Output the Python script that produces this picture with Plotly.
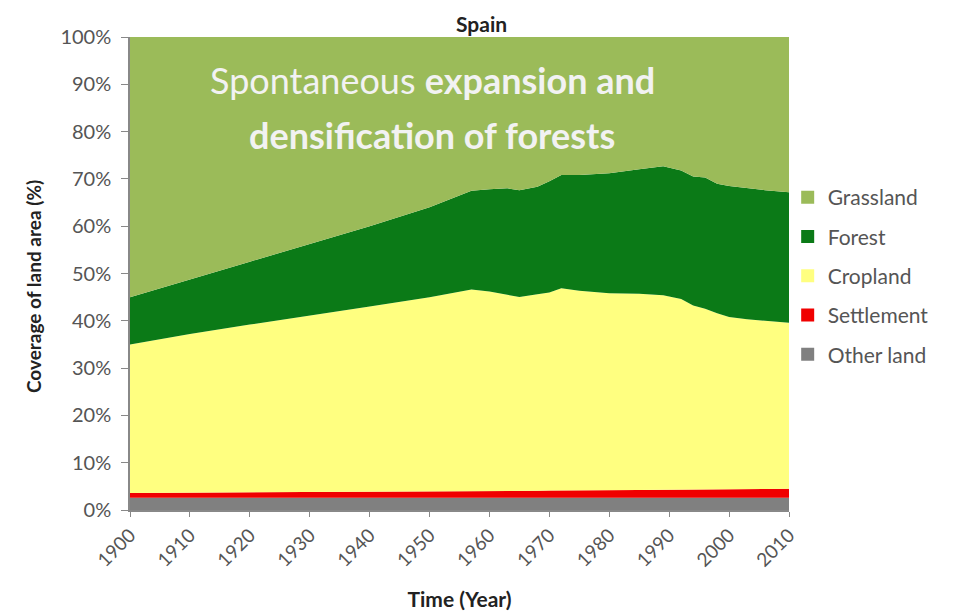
import plotly.graph_objects as go

years = [1900, 1910, 1920, 1930, 1940, 1950, 1957, 1960, 1963, 1965, 1968, 1970, 1972,
         1975, 1980, 1985, 1989, 1992, 1994, 1996, 1998, 2000, 2003, 2006, 2010]
other_land = [2.6] * len(years)
settlement = [1.0, 1.05, 1.1, 1.15, 1.2, 1.3, 1.35, 1.4, 1.4, 1.45, 1.45, 1.5, 1.5,
              1.55, 1.6, 1.65, 1.7, 1.7, 1.75, 1.75, 1.8, 1.8, 1.85, 1.85, 1.9]
cropland = [31.4, 33.6, 35.5, 37.3, 39.2, 41.1, 42.7, 42.2, 41.5, 41.0, 41.6, 41.9, 42.8,
            42.2, 41.6, 41.5, 41.1, 40.3, 38.9, 38.2, 37.2, 36.4, 35.9, 35.6, 35.1]
forest = [10.0, 11.6, 13.3, 15.2, 17.0, 19.0, 20.9, 21.6, 22.5, 22.6, 22.7, 23.5, 23.9,
          24.5, 25.4, 26.3, 27.3, 27.2, 27.3, 27.8, 27.4, 27.7, 27.7, 27.6, 27.6]
grassland = [55.0, 51.2, 47.5, 43.8, 40.0, 36.0, 32.5, 32.2, 32.0, 32.4, 31.7, 30.5, 29.2,
             29.2, 28.8, 28.0, 27.3, 28.2, 29.5, 29.7, 31.0, 31.5, 32.0, 32.4, 32.8]

series = [
    ("Other land", other_land, "#808080"),
    ("Settlement", settlement, "#F00000"),
    ("Cropland", cropland, "#FFFF80"),
    ("Forest", forest, "#0B7A17"),
    ("Grassland", grassland, "#9BBB59"),
]

fig = go.Figure()
for name, vals, col in series:
    fig.add_trace(go.Scatter(
        x=years, y=vals, name=name, mode="lines", stackgroup="one",
        groupnorm="percent" if name == "Other land" else None,
        line=dict(width=0, color=col), fillcolor=col, showlegend=False,
    ))
# legend entries with square symbols (Grassland on top)
for rank, (name, vals, col) in enumerate(reversed(series)):
    fig.add_trace(go.Scatter(
        x=[None], y=[None], name=name, mode="markers",
        marker=dict(symbol="square", size=13, color=col),
        legendgroup=name, legendrank=rank + 1, showlegend=True,
    ))

FONT = "Lato"
PX_L, PX_T, PW, PH = 130, 37, 659, 473  # plot area in page pixels


def px(xp):
    return (xp - PX_L) / PW


def py(yp):
    return (PX_T + PH - yp) / PH


fig.update_layout(
    width=966, height=616,
    margin=dict(l=122, r=185, t=29, b=114),
    paper_bgcolor="white", plot_bgcolor="white",
    font=dict(family=FONT, color="#555555", size=20),
    showlegend=True,
    legend=dict(x=0.998, xanchor="left", y=py(177), yanchor="top",
                traceorder="grouped", tracegroupgap=9,
                font=dict(size=21, color="#555555", family=FONT),
                itemwidth=30, bgcolor="rgba(0,0,0,0)"),
    xaxis=dict(range=[1900, 2010], tickmode="array",
               tickvals=list(range(1900, 2011, 10)),
               tickangle=-45, ticks="outside", ticklen=5, tickcolor="#888888",
               showline=True, linecolor="#888888", linewidth=1.5, showgrid=False,
               zeroline=False, tickfont=dict(size=19, color="#555555"),
               title=dict(text="<b>Time (Year)</b>", standoff=23,
                          font=dict(size=21, color="#222222"))),
    yaxis=dict(range=[0, 100], tickmode="array", tickvals=list(range(0, 101, 10)),
               ticktext=[f"{v}%" for v in range(0, 101, 10)],
               ticks="outside", ticklen=7, tickcolor="#888888", ticklabelstandoff=6,
               showline=True, linecolor="#888888", linewidth=1.5, showgrid=False,
               zeroline=False, tickfont=dict(size=20, color="#555555")),
)

fig.add_annotation(
    text="<b>Spain</b>", xref="paper", yref="paper", x=px(481), y=py(23),
    xanchor="center", yanchor="middle", showarrow=False, borderpad=0,
    font=dict(size=21, color="#222222", family=FONT),
)
fig.add_annotation(
    text="<b>Coverage of land area (%)</b>", xref="paper", yref="paper",
    x=px(33), y=py(287), xanchor="center", yanchor="middle", textangle=-90,
    showarrow=False, font=dict(size=19, color="#222222", family=FONT),
)
fig.add_annotation(
    text="Spontaneous <b>expansion and</b>",
    xref="paper", yref="paper", x=px(432), y=py(80),
    xanchor="center", yanchor="middle", showarrow=False, align="center",
    font=dict(size=36, color="#F2F2F2", family=FONT),
)
fig.add_annotation(
    text="<b>densification of forests</b>",
    xref="paper", yref="paper", x=px(432), y=py(135),
    xanchor="center", yanchor="middle", showarrow=False, align="center",
    font=dict(size=36, color="#F2F2F2", family=FONT),
)

fig.write_html("out.html")
